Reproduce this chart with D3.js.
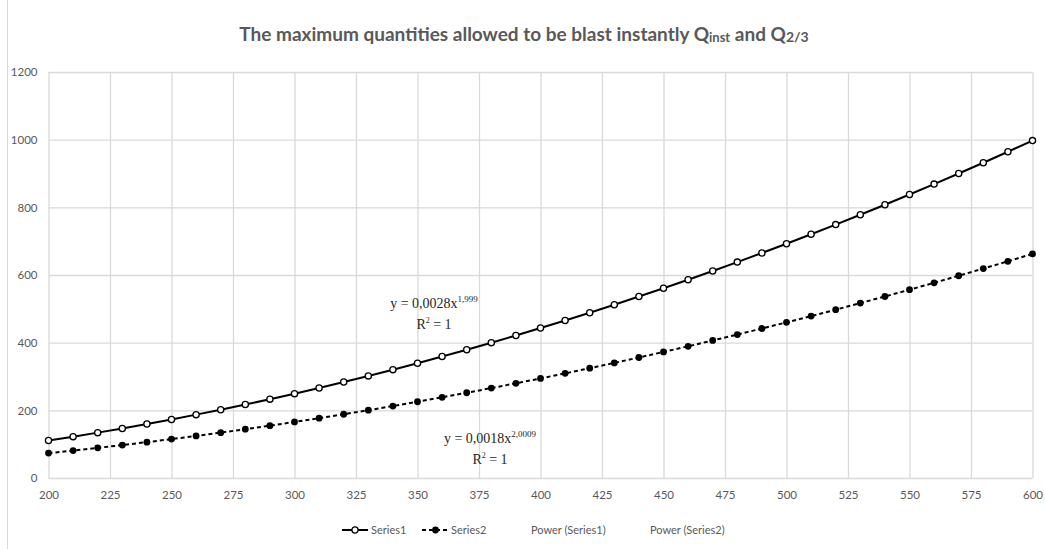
<!DOCTYPE html>
<html>
<head>
<meta charset="utf-8">
<script src="https://cdn.jsdelivr.net/npm/d3@7"></script>
<style>
  body { margin: 0; background: #fff; }
  svg { display: block; }
  .tick text { fill: #595959; font-family: Lato, "Open Sans", sans-serif; font-size: 11.5px; }
  .grid line { stroke: #d9d9d9; stroke-width: 1.3; }
  .grid path { display: none; }
</style>
</head>
<body>
<div id="chart"></div>
<script>
// Data
const distances = [200, 210, 220, 230, 240, 250, 260, 270, 280, 290,
  300, 310, 320, 330, 340, 350, 360, 370, 380, 390,
  400, 410, 420, 430, 440, 450, 460, 470, 480, 490,
  500, 510, 520, 530, 540, 550, 560, 570, 580, 590, 600];

const series1 = [110.8, 122.2, 134.1, 146.5, 159.6, 173.1, 187.3, 201.9, 217.2, 233.0,
  249.3, 266.2, 283.6, 301.7, 320.2, 339.3, 359.0, 379.2, 400.0, 421.3,
  443.2, 465.6, 488.6, 512.2, 536.3, 560.9, 586.1, 611.9, 638.2, 665.1,
  692.5, 720.5, 749.0, 778.1, 807.7, 837.9, 868.7, 900.0, 931.8, 964.2, 997.2];

const series2 = [73.6, 81.1, 89.1, 97.3, 106.0, 115.0, 124.4, 134.1, 144.3, 154.7,
  165.6, 176.8, 188.4, 200.4, 212.7, 225.4, 238.5, 251.9, 265.7, 279.9,
  294.4, 309.3, 324.6, 340.2, 356.2, 372.6, 389.3, 406.5, 423.9, 441.8,
  460.0, 478.6, 497.5, 516.9, 536.5, 556.6, 577.0, 597.8, 619.0, 640.5, 662.4];

const xTicks = [200, 225, 250, 275, 300, 325, 350, 375, 400, 425, 450, 475, 500, 525, 550, 575, 600];
const yTicks = [0, 200, 400, 600, 800, 1000, 1200];
const legendLabels = ['Series1', 'Series2', 'Power (Series1)', 'Power (Series2)'];

const width = 1045;
const height = 549;
const margin = { top: 72, right: 12.5, bottom: 71, left: 48.5 };

const svg = d3.select('#chart').append('svg')
  .attr('width', width)
  .attr('height', height);

// chart area border (only the left edge is visible in the reference)
svg.append('line')
  .attr('x1', 7.5).attr('x2', 7.5)
  .attr('y1', 0).attr('y2', height)
  .attr('stroke', '#d9d9d9');

const x = d3.scaleLinear()
  .domain([200, 600])
  .range([margin.left, width - margin.right]);

const y = d3.scaleLinear()
  .domain([0, 1200])
  .range([height - margin.bottom, margin.top]);

// title
const title = svg.append('text')
  .attr('x', 524)
  .attr('y', 41)
  .attr('text-anchor', 'middle')
  .attr('fill', '#595959')
  .style('font-family', 'Lato, "Open Sans", sans-serif')
  .style('font-weight', 'bold')
  .style('font-size', '19px');
title.append('tspan').text('The maximum quantities allowed to be blast instantly Q');
title.append('tspan').attr('font-size', '13px').attr('dy', 1).text('inst');
title.append('tspan').attr('dy', -1).text(' and Q');
title.append('tspan').attr('font-size', '14px').attr('dy', 1).text('2/3');

// gridlines + axes
svg.append('g')
  .attr('class', 'grid')
  .attr('transform', `translate(0,${height - margin.bottom})`)
  .call(d3.axisBottom(x)
    .tickValues(xTicks)
    .tickSize(-(height - margin.top - margin.bottom))
    .tickPadding(13)
    .tickFormat(d3.format('d')));

svg.append('g')
  .attr('class', 'grid')
  .attr('transform', `translate(${margin.left},0)`)
  .call(d3.axisLeft(y)
    .tickValues(yTicks)
    .tickSize(-(width - margin.left - margin.right))
    .tickPadding(11)
    .tickFormat(d3.format('d')));

svg.selectAll('.grid .tick line')
  .filter(function(d) { return d === 0; })
  .attr('stroke', '#c8c8c8');

const pts1 = distances.map(function(d, i) { return [d, series1[i]]; });
const pts2 = distances.map(function(d, i) { return [d, series2[i]]; });

const line = d3.line()
  .x(function(d) { return x(d[0]); })
  .y(function(d) { return y(d[1]); });

svg.append('path')
  .datum(pts2)
  .attr('fill', 'none')
  .attr('stroke', '#000')
  .attr('stroke-width', 2)
  .attr('stroke-dasharray', '4,3')
  .attr('d', line);

svg.append('path')
  .datum(pts1)
  .attr('fill', 'none')
  .attr('stroke', '#000')
  .attr('stroke-width', 2)
  .attr('d', line);

svg.append('g').selectAll('circle')
  .data(pts2)
  .enter()
  .append('circle')
  .attr('cx', function(d) { return x(d[0]); })
  .attr('cy', function(d) { return y(d[1]); })
  .attr('r', 3.4)
  .attr('fill', '#000');

svg.append('g').selectAll('circle')
  .data(pts1)
  .enter()
  .append('circle')
  .attr('cx', function(d) { return x(d[0]); })
  .attr('cy', function(d) { return y(d[1]); })
  .attr('r', 3.1)
  .attr('fill', '#fff')
  .attr('stroke', '#000')
  .attr('stroke-width', 1.3);

// trendline labels
function trendLabel(cx, cy, coef, exp) {
  const g = svg.append('g')
    .style('font-family', '"Liberation Serif", "DejaVu Serif", serif')
    .attr('fill', '#262626');
  const t = g.append('text')
    .attr('x', cx).attr('y', cy)
    .attr('text-anchor', 'middle')
    .style('font-size', '14px');
  t.append('tspan').text('y = ' + coef + 'x');
  t.append('tspan').attr('dy', -6).style('font-size', '9px').text(exp);
  const r = g.append('text')
    .attr('x', cx).attr('y', cy + 21)
    .attr('text-anchor', 'middle')
    .style('font-size', '14px');
  r.append('tspan').text('R');
  r.append('tspan').attr('dy', -6).style('font-size', '8px').text('2');
  r.append('tspan').attr('dy', 6).text(' = 1');
}
trendLabel(434, 308, '0,0028', '1,999');
trendLabel(490, 443, '0,0018', '2,0009');

// legend
const legend = svg.append('g')
  .attr('transform', 'translate(0,530)')
  .style('font-family', 'Lato, "Open Sans", sans-serif')
  .style('font-size', '11px')
  .attr('fill', '#595959');

legend.append('line')
  .attr('x1', 342).attr('x2', 368)
  .attr('stroke', '#000').attr('stroke-width', 2);
legend.append('circle')
  .attr('cx', 355).attr('r', 3.1)
  .attr('fill', '#fff').attr('stroke', '#000').attr('stroke-width', 1.3);
legend.append('text').attr('x', 371).attr('dy', '0.35em').text(legendLabels[0]);

legend.append('line')
  .attr('x1', 422).attr('x2', 449)
  .attr('stroke', '#000').attr('stroke-width', 2)
  .attr('stroke-dasharray', '4,3');
legend.append('circle')
  .attr('cx', 435.5).attr('r', 3.4).attr('fill', '#000');
legend.append('text').attr('x', 451).attr('dy', '0.35em').text(legendLabels[1]);

legend.append('text').attr('x', 531).attr('dy', '0.35em').text(legendLabels[2]);
legend.append('text').attr('x', 650).attr('dy', '0.35em').text(legendLabels[3]);
</script>
</body>
</html>
